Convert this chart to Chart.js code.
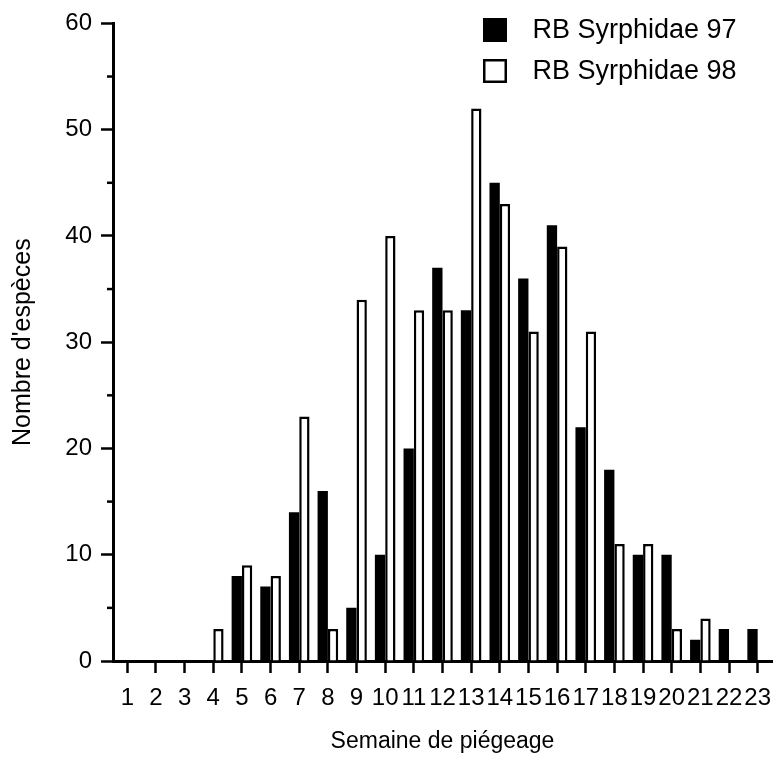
<!DOCTYPE html>
<html>
<head>
<meta charset="utf-8">
<script src="https://cdn.jsdelivr.net/npm/chart.js@4/dist/chart.umd.min.js"></script>
<style>
  html, body { margin: 0; padding: 0; background: #fff; }
  canvas { display: block; }
</style>
</head>
<body>
<canvas id="chart" width="773" height="758"></canvas>
<script>
// ── Data ─────────────────────────────────────────────────────────────────────
const weeks = ["1","2","3","4","5","6","7","8","9","10","11","12","13","14","15","16","17","18","19","20","21","22","23"];
const syrphidae97 = [0,0,0,0,8,7,14,16,5,10,20,37,33,45,36,41,22,18,10,10,2,3,3];
const syrphidae98 = [0,0,0,3,9,8,23,3,34,40,33,33,52,43,31,39,31,11,11,3,4,0,0];
const seriesLabels = ["RB Syrphidae 97", "RB Syrphidae 98"];
const yTicks = [0, 10, 20, 30, 40, 50, 60];

const FONT = "'Liberation Sans', Arial, Helvetica, sans-serif";

// ── Legend icons: square on the left, blank room after it for the gap ───────
function legendIcon(fill) {
  const c = document.createElement("canvas");
  c.width = 36; c.height = 25;
  const g = c.getContext("2d");
  if (fill) {
    g.fillStyle = "#000";
    g.fillRect(0, 0, 24, 24);
  } else {
    g.fillStyle = "#fff";
    g.fillRect(1, 1, 22, 22);
    g.strokeStyle = "#000";
    g.lineWidth = 2.5;
    g.strokeRect(1.25, 1.25, 21.5, 21.5);
  }
  return c;
}
const legendIcons = [legendIcon(true), legendIcon(false)];

// move the legend into the top-right corner of the plot
const legendPlacer = {
  id: "legendPlacer",
  afterLayout(chart) {
    chart.legend.left = 469;
    chart.legend.top = 3;
  },
};

// short minor ticks halfway between labelled y ticks
const minorTicks = {
  id: "minorTicks",
  afterDraw(chart) {
    const y = chart.scales.y;
    const ctx = chart.ctx;
    ctx.save();
    ctx.strokeStyle = "#000";
    ctx.lineWidth = 2.5;
    for (let i = 0; i < yTicks.length - 1; i++) {
      const py = y.getPixelForValue((yTicks[i] + yTicks[i + 1]) / 2);
      ctx.beginPath();
      ctx.moveTo(y.right - 6, py);
      ctx.lineTo(y.right, py);
      ctx.stroke();
    }
    ctx.restore();
  },
};

new Chart(document.getElementById("chart"), {
  type: "bar",
  data: {
    labels: weeks,
    datasets: [
      { label: seriesLabels[0], data: syrphidae97, backgroundColor: "#000", borderColor: "#000", borderWidth: 0 },
      { label: seriesLabels[1], data: syrphidae98, backgroundColor: "#fff", borderColor: "#000", borderWidth: 2.5 },
    ],
  },
  options: {
    responsive: false,
    animation: false,
    devicePixelRatio: 1,
    layout: { padding: { left: 0, right: 1, top: 22, bottom: 0 } },
    datasets: { bar: { categoryPercentage: 0.72, barPercentage: 1.0 } },
    plugins: {
      tooltip: { enabled: false },
      legend: {
        position: "chartArea",
        align: "start",
        labels: {
          color: "#000",
          font: { family: FONT, size: 27 },
          usePointStyle: true,
          pointStyleWidth: 36,
          boxHeight: 24,
          padding: 14,
          generateLabels(chart) {
            const items = Chart.defaults.plugins.legend.labels.generateLabels(chart);
            items.forEach((it, i) => { it.pointStyle = legendIcons[i]; });
            return items;
          },
        },
      },
    },
    scales: {
      x: {
        offset: true,
        afterFit(s) { s.height = 97; s.paddingLeft = 0; s.paddingRight = 0; },
        grid: { offset: false, drawOnChartArea: false, tickLength: 12, tickWidth: 2.5, tickColor: "#000" },
        border: { color: "#000", width: 3 },
        ticks: { color: "#000", font: { family: FONT, size: 24 }, padding: 11, maxRotation: 0, autoSkip: false },
        title: {
          display: true, text: "Semaine de piégeage", color: "#000",
          font: { family: FONT, size: 23 }, padding: { top: 0, bottom: 3 },
        },
      },
      y: {
        min: 0, max: 60,
        afterFit(s) { s.width = 113; },
        afterBuildTicks(s) { s.ticks = yTicks.map((v) => ({ value: v })); },
        grid: { drawOnChartArea: false, tickLength: 12, tickWidth: 2.5, tickColor: "#000" },
        border: { color: "#000", width: 3 },
        ticks: { color: "#000", font: { family: FONT, size: 24 }, padding: 9 },
        title: {
          display: true, text: "Nombre d'espèces", color: "#000",
          font: { family: FONT, size: 25 }, padding: { top: 8, bottom: 0 },
        },
      },
    },
  },
  plugins: [legendPlacer, minorTicks],
});
</script>
</body>
</html>
